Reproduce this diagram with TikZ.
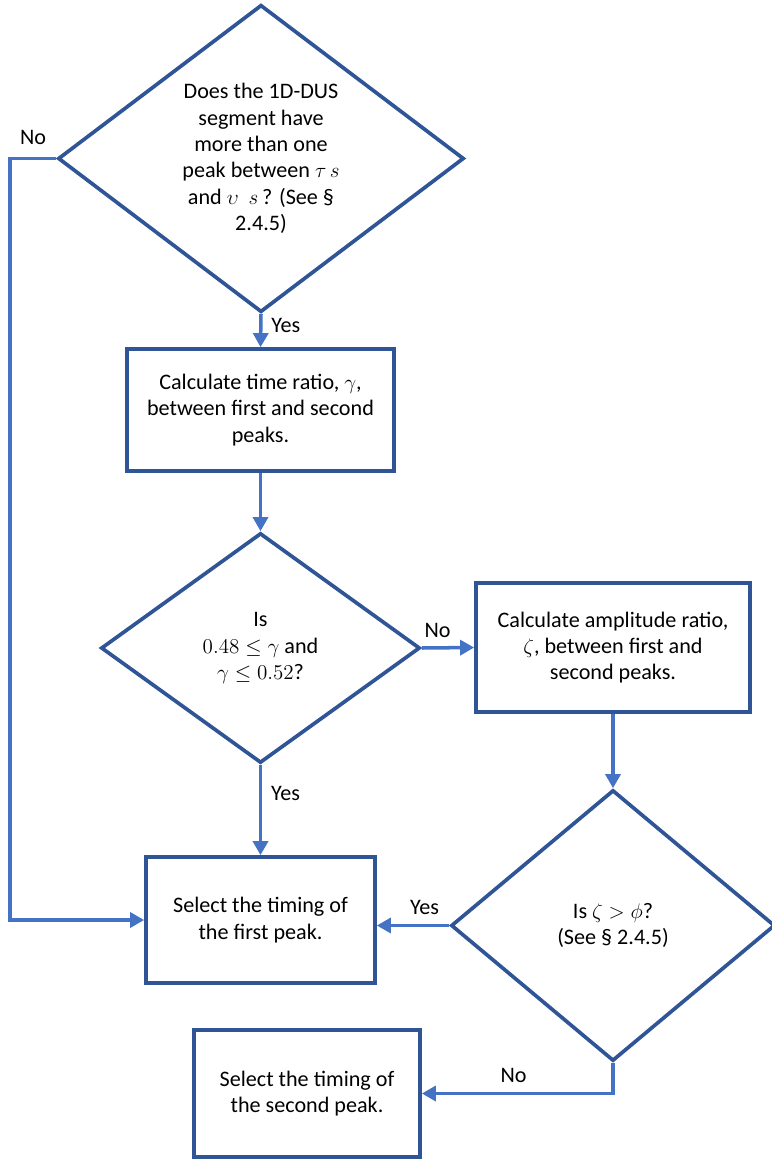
\documentclass[tikz,border=0pt]{standalone}
\usepackage{amsmath}
\usepackage{amssymb}
\usepackage{fontspec}
\setmainfont{Carlito}
\usepackage{tikz}
\usetikzlibrary{positioning, arrows.meta, shapes.geometric, calc}

\definecolor{boxblue}{HTML}{2F5597}
\definecolor{arrowblue}{HTML}{4472C4}

\tikzset{
    stepbox/.style={draw=boxblue, line width=2.1pt, align=center, inner sep=0pt,
        font=\fontsize{12.6}{15}\selectfont},
    decision/.style={stepbox, shape=diamond},
    flow/.style={draw=arrowblue, line width=2pt, -{Triangle[length=8pt,width=8.5pt]}},
    answer/.style={inner sep=0pt, font=\fontsize{12.6}{15}\selectfont}
}

\begin{document}
\begin{tikzpicture}[x=0.02cm, y=-0.02cm]
    \useasboundingbox (0,0) rectangle (771,1159);

    % decisions
    \node[decision, minimum width=8.12cm, minimum height=5.94cm] (d1) at (261,158.5)
        {Does the 1D-DUS\\segment have\\more than one\\peak between $\tau\,s$\\and $\upsilon\ \ s$\,? (See \S\\2.4.5)};
    \node[decision, minimum width=6.38cm, minimum height=4.6cm] (d2) at (260.5,648)
        {Is\\$0.48 \leq \gamma$ and\\$\gamma \leq 0.52$?};
    \node[decision, minimum width=6.48cm, minimum height=5.42cm] (d3) at (613,925.5)
        {Is $\zeta > \phi$?\\(See \S\ 2.4.5)};

    % steps
    \node[stepbox, minimum width=5.34cm, minimum height=2.44cm] (b1) at (260.5,410)
        {Calculate time ratio, $\gamma$,\\between first and second\\peaks.};
    \node[stepbox, minimum width=5.48cm, minimum height=2.58cm] (b2) at (613,647.5)
        {Calculate amplitude ratio,\\$\zeta$, between first and\\second peaks.};
    \node[stepbox, minimum width=4.58cm, minimum height=2.52cm] (b3) at (260.5,920)
        {Select the timing of\\the first peak.};
    \node[stepbox, minimum width=4.52cm, minimum height=2.54cm] (b4) at (307,1093.5)
        {Select the timing of\\the second peak.};

    % connectors
    \coordinate (nocorner) at (10,158.5);
    \draw[flow] (d1.south) -- node[answer, pos=0.36, right=5pt] {Yes} (b1.north);
    \draw[flow] (b1.south) -- (d2.north);
    \draw[flow] (d2.east) -- node[answer, pos=0.3, above=5pt] {No} (b2.west);
    \draw[flow] (b2.south) -- (d3.north);
    \draw[flow] (d2.south) -- node[answer, pos=0.32, right=5pt] {Yes} (b3.north);
    \draw[flow] (d3.west) -- node[answer, pos=0.34, above=5pt] {Yes} (d3.west -| b3.east);
    \draw[flow] (d1.west) -- node[answer, pos=0.5, above=7pt] {No} (nocorner) |- (b3.west);
    \draw[flow] (d3.south) |- node[answer, pos=0.76, above=5pt] {No} (b4.east);
\end{tikzpicture}
\end{document}
